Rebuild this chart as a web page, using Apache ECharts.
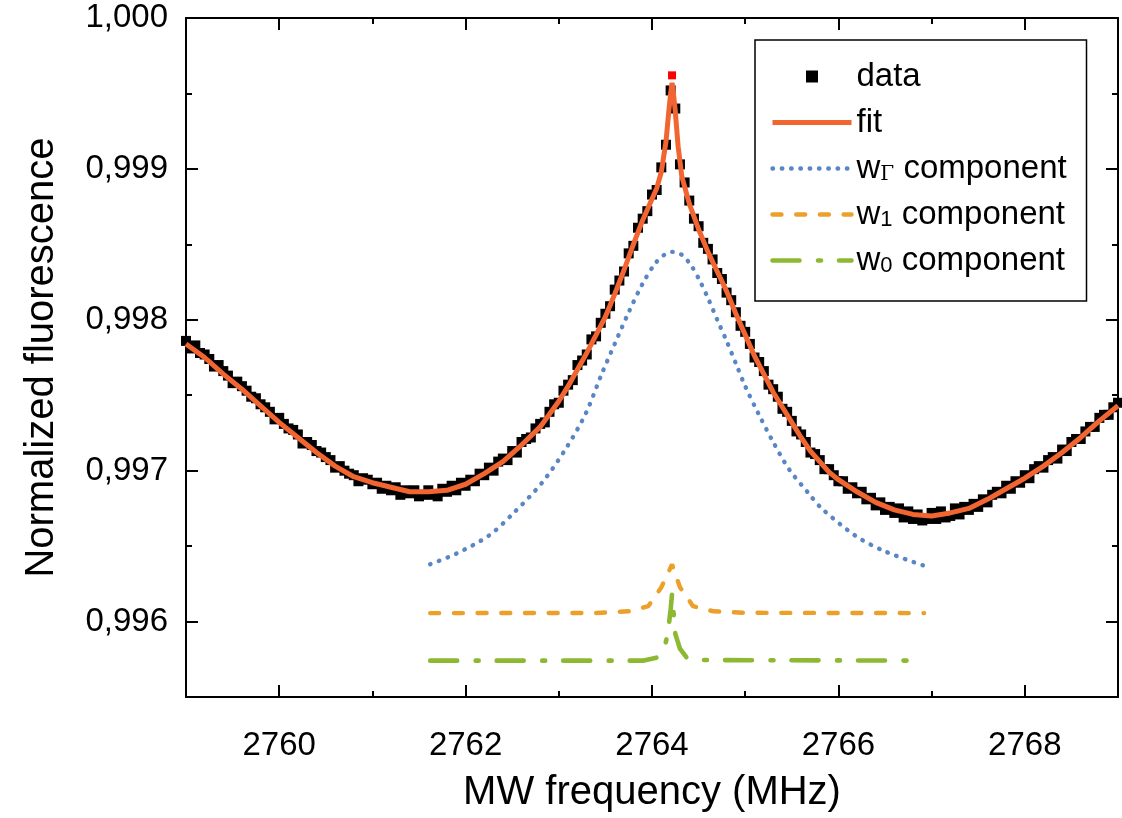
<!DOCTYPE html>
<html>
<head>
<meta charset="utf-8">
<script src="https://cdn.jsdelivr.net/npm/echarts@6/dist/echarts.min.js"></script>
<style>
html, body { margin: 0; padding: 0; background: #fff; }
#chart { width: 1122px; height: 818px; }
</style>
</head>
<body>
<div id="chart"></div>
<script>
// measured points, one every 0.05 MHz starting at 2759
const dataStart = 2759
const dataStep = 0.05
const dataValues = [
  0.99786, 0.99781, 0.99783, 0.99778, 0.99777, 0.99774, 0.99769, 0.99770, 0.99766, 0.99763,
  0.99758, 0.99759, 0.99756, 0.99753, 0.99749, 0.99748, 0.99744, 0.99742, 0.99739, 0.99734,
  0.99735, 0.99731, 0.99728, 0.99727, 0.99724, 0.99718, 0.99719, 0.99717, 0.99713, 0.99712,
  0.99709, 0.99707, 0.99702, 0.99703, 0.99700, 0.99698, 0.99697, 0.99693, 0.99695, 0.99694,
  0.99691, 0.99692, 0.99688, 0.99690, 0.99687, 0.99689, 0.99684, 0.99687, 0.99685, 0.99687,
  0.99683, 0.99684, 0.99687, 0.99684, 0.99683, 0.99688, 0.99686, 0.99690, 0.99687, 0.99692,
  0.99690, 0.99694, 0.99693, 0.99698, 0.99697, 0.99702, 0.99700, 0.99706, 0.99708, 0.99707,
  0.99713, 0.99712, 0.99719, 0.99721, 0.99722, 0.99728, 0.99731, 0.99732, 0.99739, 0.99744,
  0.99745, 0.99753, 0.99757, 0.99760, 0.99770, 0.99773, 0.99777, 0.99787, 0.99789, 0.99798,
  0.99804, 0.99809, 0.99820, 0.99826, 0.99832, 0.99844, 0.99849, 0.99861, 0.99867, 0.99872,
  0.99883, 0.99886, 0.99901, 0.99916, 0.99952, 0.99940, 0.99903, 0.99891, 0.99879, 0.99867,
  0.99862, 0.99851, 0.99847, 0.99840, 0.99831, 0.99827, 0.99818, 0.99813, 0.99805, 0.99796,
  0.99792, 0.99784, 0.99775, 0.99772, 0.99766, 0.99757, 0.99754, 0.99749, 0.99741, 0.99739,
  0.99733, 0.99726, 0.99724, 0.99719, 0.99712, 0.99711, 0.99707, 0.99701, 0.99701, 0.99697,
  0.99693, 0.99693, 0.99688, 0.99689, 0.99685, 0.99686, 0.99681, 0.99682, 0.99677, 0.99679,
  0.99674, 0.99676, 0.99672, 0.99675, 0.99669, 0.99673, 0.99668, 0.99671, 0.99667, 0.99668,
  0.99672, 0.99668, 0.99673, 0.99669, 0.99670, 0.99675, 0.99671, 0.99676, 0.99674, 0.99678,
  0.99676, 0.99681, 0.99679, 0.99684, 0.99686, 0.99685, 0.99690, 0.99688, 0.99693, 0.99692,
  0.99697, 0.99695, 0.99701, 0.99703, 0.99702, 0.99707, 0.99709, 0.99708, 0.99714, 0.99713,
  0.99719, 0.99721, 0.99721, 0.99726, 0.99729, 0.99729, 0.99735, 0.99737, 0.99737, 0.99742,
  0.99745
]
const peakPoint = [2764.215, 0.99962]

const fitFreq = [
  2759.0, 2759.2, 2759.4, 2759.6, 2759.8, 2760.0, 2760.2, 2760.4, 2760.6, 2760.8,
  2761.0, 2761.2, 2761.4, 2761.6, 2761.8, 2762.0, 2762.2, 2762.4, 2762.6, 2762.8,
  2763.0, 2763.1, 2763.2, 2763.3, 2763.4, 2763.5, 2763.6, 2763.7, 2763.8, 2763.9,
  2764.0, 2764.05, 2764.1, 2764.15, 2764.18, 2764.2, 2764.215, 2764.23, 2764.25, 2764.28,
  2764.32, 2764.4, 2764.5, 2764.6, 2764.7, 2764.8, 2764.9, 2765.0, 2765.1, 2765.2,
  2765.3, 2765.4, 2765.5, 2765.6, 2765.7, 2765.8, 2765.9, 2766.0, 2766.2, 2766.4,
  2766.6, 2766.8, 2767.0, 2767.2, 2767.4, 2767.6, 2767.8, 2768.0, 2768.2, 2768.4,
  2768.6, 2768.8, 2769.0
]
const fitValues = [
  0.99784, 0.99775, 0.99764, 0.99754, 0.99743, 0.99732, 0.99722, 0.99712, 0.99703, 0.99696,
  0.99692, 0.99689, 0.99686, 0.99686, 0.99687, 0.99691, 0.99698, 0.99706, 0.99717, 0.99729,
  0.99746, 0.99756, 0.99767, 0.99778, 0.99790, 0.99802, 0.99817, 0.99833, 0.99850, 0.99866,
  0.99880, 0.99887, 0.99898, 0.99918, 0.99938, 0.99950, 0.99957, 0.99950, 0.99938, 0.99915,
  0.99895, 0.99877, 0.99860, 0.99845, 0.99832, 0.99819, 0.99804, 0.99790, 0.99776, 0.99764,
  0.99752, 0.99742, 0.99732, 0.99722, 0.99713, 0.99706, 0.99699, 0.99694, 0.99686, 0.99679,
  0.99674, 0.99671, 0.99670, 0.99672, 0.99675, 0.99681, 0.99688, 0.99695, 0.99703, 0.99712,
  0.99722, 0.99733, 0.99743
]

const gammaFreq = [
  2761.62, 2761.9, 2762.25, 2762.5, 2762.82, 2763.08, 2763.29, 2763.46, 2763.6, 2763.75,
  2763.9, 2764.03, 2764.13, 2764.22, 2764.32, 2764.42, 2764.52, 2764.61, 2764.7, 2764.8,
  2764.9, 2765.0, 2765.14, 2765.3, 2765.47, 2765.68, 2765.82, 2766.18, 2766.48, 2766.92
]
const gammaValues = [
  0.99638, 0.99645, 0.99657, 0.99671, 0.99692, 0.99715, 0.99738, 0.99764, 0.99784, 0.99805,
  0.99824, 0.99837, 0.99843, 0.99845, 0.99843, 0.99836, 0.99825, 0.99813, 0.99800, 0.99786,
  0.99771, 0.99756, 0.99738, 0.99719, 0.99701, 0.99685, 0.99675, 0.99657, 0.99647, 0.99637
]

const w1Freq = [2761.62, 2763.4, 2763.75, 2763.96, 2764.1, 2764.215, 2764.3, 2764.44, 2764.66, 2765.0, 2766.92]
const w1Values = [0.996056, 0.996057, 0.996068, 0.996102, 0.996227, 0.996378, 0.996227, 0.996102, 0.996068, 0.996058, 0.996056]

const w0Freq = [2761.62, 2763.9, 2764.05, 2764.13, 2764.17, 2764.2, 2764.215, 2764.25, 2764.3, 2764.38, 2764.5, 2766.92]
const w0Values = [0.995741, 0.995741, 0.995761, 0.995820, 0.995918, 0.996082, 0.996181, 0.995918, 0.995820, 0.995754, 0.995745, 0.995741]

const xMajorTicks = [2760, 2762, 2764, 2766, 2768]
const xMinorTicks = [2761, 2763, 2765, 2767]
const yMajorTicks = [0.996, 0.997, 0.998, 0.999, 1.0]
const yMinorTicks = [0.9965, 0.9975, 0.9985, 0.9995]

const FONT = 'Liberation Sans, Arial, sans-serif'

const zip = (xs, ys) => xs.map((x, i) => [x, ys[i]])

function xAxisDef(position, ticks, len, withLabels) {
  return {
    type: 'value', position: position, min: 2759, max: 2769,
    axisLine: { show: true, onZero: false, lineStyle: { color: '#000', width: 2 } },
    axisTick: { show: true, inside: true, length: len, customValues: ticks, lineStyle: { color: '#000', width: 2 } },
    axisLabel: {
      show: withLabels, customValues: ticks, margin: 32,
      color: '#000', fontSize: 33, fontFamily: FONT,
      formatter: v => String(v)
    },
    splitLine: { show: false },
    name: withLabels ? 'MW frequency (MHz)' : '',
    nameLocation: 'middle', nameGap: 76,
    nameTextStyle: { color: '#000', fontSize: 40, fontFamily: FONT }
  }
}

function yAxisDef(position, ticks, len, withLabels) {
  return {
    type: 'value', position: position, min: 0.9955, max: 1.0,
    axisLine: { show: true, onZero: false, lineStyle: { color: '#000', width: 2 } },
    axisTick: { show: true, inside: true, length: len, customValues: ticks, lineStyle: { color: '#000', width: 2 } },
    axisLabel: {
      show: withLabels, customValues: ticks, margin: 18,
      color: '#000', fontSize: 33, fontFamily: FONT,
      formatter: v => v.toFixed(3).replace('.', ',')
    },
    splitLine: { show: false },
    name: withLabels ? 'Normalized fluorescence' : '',
    nameLocation: 'middle', nameGap: 124,
    nameTextStyle: { color: '#000', fontSize: 40, fontFamily: FONT }
  }
}

const chart = echarts.init(document.getElementById('chart'), null, { renderer: 'canvas' })

chart.setOption({
  backgroundColor: '#fff',
  animation: false,
  grid: { left: 186, right: 4, top: 18, bottom: 115, containLabel: false },
  xAxis: [
    xAxisDef('bottom', xMajorTicks, 12, true),
    xAxisDef('bottom', xMinorTicks, 6, false),
    xAxisDef('top', xMajorTicks, 12, false),
    xAxisDef('top', xMinorTicks, 6, false)
  ],
  yAxis: [
    yAxisDef('left', yMajorTicks, 12, true),
    yAxisDef('left', yMinorTicks, 6, false),
    yAxisDef('right', yMajorTicks, 12, false),
    yAxisDef('right', yMinorTicks, 6, false)
  ],
  legend: {
    orient: 'vertical', left: 755, top: 40,
    padding: [20, 8, 24, 15], itemGap: 13,
    itemWidth: 79, itemHeight: 12,
    borderColor: '#000', borderWidth: 1.5,
    itemStyle: { opacity: 0 },
    lineStyle: { width: 'inherit', type: 'inherit', cap: 'inherit' },
    textStyle: {
      color: '#000', fontSize: 33, fontFamily: FONT, lineHeight: 33,
      width: 222, overflow: 'none',
      rich: {
        g: { fontFamily: 'DejaVu Serif, Liberation Serif, serif', fontSize: 20, lineHeight: 16, verticalAlign: 'bottom', color: '#000' },
        s: { fontFamily: FONT, fontSize: 22, lineHeight: 18, verticalAlign: 'bottom', color: '#000' }
      }
    },
    formatter: name => ({
      wG: 'w{g|Γ} component',
      w1: 'w{s|1} component',
      w0: 'w{s|0} component'
    })[name] || name,
    data: [
      { name: 'data', icon: 'path://M0,0L10,0L10,10L0,10Z', itemStyle: { opacity: 1 } },
      { name: 'fit' },
      { name: 'wG' },
      { name: 'w1' },
      { name: 'w0' }
    ]
  },
  series: [
    {
      name: 'data', type: 'scatter', symbol: 'rect', symbolSize: 10,
      symbolKeepAspect: true,
      itemStyle: { color: '#000', opacity: 1 },
      data: dataValues.map((v, i) => [+(dataStart + i * dataStep).toFixed(2), v]),
      z: 2
    },
    {
      name: 'peak', type: 'scatter', symbol: 'rect', symbolSize: 8,
      itemStyle: { color: '#ff0000', opacity: 1 },
      data: [peakPoint], z: 2
    },
    {
      name: 'fit', type: 'line', showSymbol: false, symbol: 'none',
      lineStyle: { color: '#f26531', width: 5 },
      itemStyle: { color: '#f26531' },
      data: zip(fitFreq, fitValues), z: 3
    },
    {
      name: 'wG', type: 'line', showSymbol: false, symbol: 'none', smooth: 0.3,
      lineStyle: { color: '#5a86c4', width: 4.4, type: [0.5, 8.8], cap: 'round' },
      itemStyle: { color: '#5a86c4' },
      data: zip(gammaFreq, gammaValues), z: 3
    },
    {
      name: 'w1', type: 'line', showSymbol: false, symbol: 'none',
      lineStyle: { color: '#eba02a', width: 4.4, type: [9, 14.7], cap: 'round' },
      itemStyle: { color: '#eba02a' },
      data: zip(w1Freq, w1Values), z: 3
    },
    {
      name: 'w0', type: 'line', showSymbol: false, symbol: 'none',
      lineStyle: { color: '#8cb832', width: 4.6, type: [27, 18.5, 3, 18], cap: 'round' },
      itemStyle: { color: '#8cb832' },
      data: zip(w0Freq, w0Values), z: 3
    }
  ]
})
</script>
</body>
</html>
